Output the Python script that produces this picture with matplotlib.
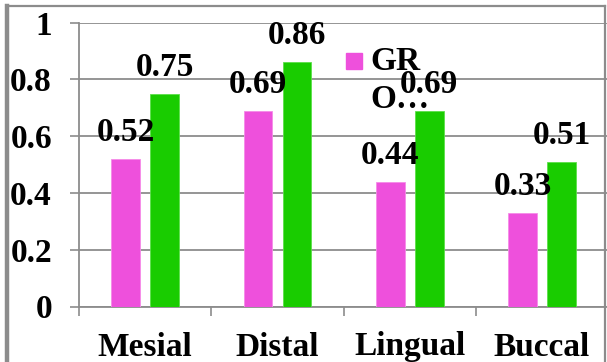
import numpy as np
import matplotlib
matplotlib.use("Agg")
import matplotlib.pyplot as plt
from matplotlib.patches import Rectangle
from matplotlib.lines import Line2D

# surface scores per group
categories = ["Mesial", "Distal", "Lingual", "Buccal"]
group_a = [0.52, 0.69, 0.44, 0.33]
group_b = [0.75, 0.86, 0.69, 0.51]
yticks = [0, 0.2, 0.4, 0.6, 0.8, 1.0]
ytick_labels = ["0", "0.2", "0.4", "0.6", "0.8", "1"]
legend_label = "GR\nO\u2026"

pink = "#ee50dc"
green = "#19cc00"
grey = "#8c8c8c"
font = dict(family="Liberation Serif", weight="bold", size=24)

W, H = 607, 362
fig = plt.figure(figsize=(W / 100, H / 100), dpi=100)
fig.patch.set_facecolor("white")

# plot area in pixel terms
x0, y0, pw, ph = 79, 306.5, 529.2, 283.8
ax = fig.add_axes([x0 / W, (H - y0) / H, pw / W, ph / H])

x = np.arange(len(categories))
bw = 0.217
off = 0.147
ax.bar(x - off, group_a, bw, color=pink, edgecolor="#f58be8", linewidth=0.6, zorder=3)
ax.bar(x + off, group_b, bw, color=green, edgecolor="#5ce04a", linewidth=0.6, zorder=3)

for xs, vals in [(x - off, group_a), (x + off, group_b)]:
    for xi, v in zip(xs, vals):
        ax.annotate(f"{v:.2f}", (xi, v), xytext=(0, 13), textcoords="offset points",
                    ha="center", va="baseline", zorder=5, **font)

ax.set_xlim(-0.5, len(categories) - 0.5)
ax.set_ylim(0, 1)

ax.set_yticks(yticks)
ax.set_yticklabels(ytick_labels, fontdict=font)
ax.yaxis.grid(True, color=grey, linewidth=1.3, zorder=0)
ax.set_axisbelow(True)
ax.tick_params(axis="y", length=6.5, width=1.2, color=grey, pad=13)

ax.set_xticks(x)
ax.set_xticklabels(categories, fontdict=font)
ax.set_xticks(np.arange(len(categories)) - 0.5, minor=True)
ax.tick_params(axis="x", which="major", length=0, pad=18)
ax.tick_params(axis="x", which="minor", length=6.5, width=1.2, color=grey)

for s in ["top", "right"]:
    ax.spines[s].set_visible(False)
for s in ["left", "bottom"]:
    ax.spines[s].set_color(grey)
    ax.spines[s].set_linewidth(1.3)

# legend (only the first entry fits)
fig.patches.append(Rectangle((346 / W, 1 - 69 / H), 16 / W, 16 / H,
                             transform=fig.transFigure, color=pink, zorder=4))
for i, line in enumerate(legend_label.split("\n")):
    fig.text(370 / W, 1 - (70 + 38 * i) / H, line, ha="left", va="baseline",
             zorder=4, **font)

# outer chart border
fig.lines.append(Line2D([7 / W, 7 / W], [0, 1 - 6 / H], transform=fig.transFigure,
                        color=grey, linewidth=3.2))
fig.lines.append(Line2D([7 / W, 605 / W], [1 - 6 / H, 1 - 6 / H], transform=fig.transFigure,
                        color=grey, linewidth=1.6))
fig.lines.append(Line2D([605 / W, 605 / W], [0, 1 - 6 / H], transform=fig.transFigure,
                        color=grey, linewidth=1.6))

fig.savefig("out.png", dpi=100)
